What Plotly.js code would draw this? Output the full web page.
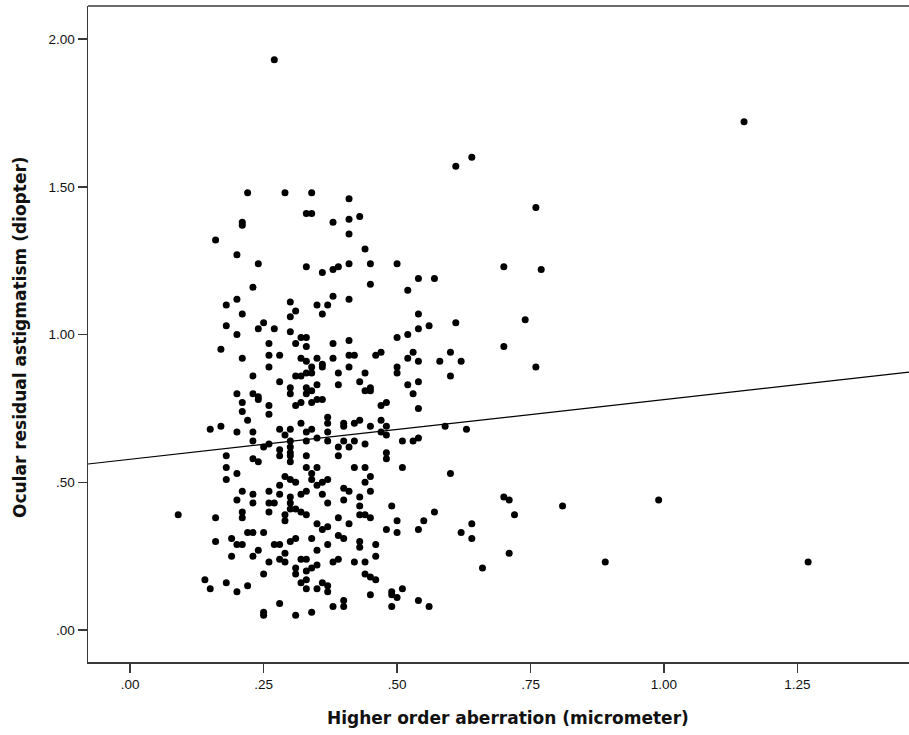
<!DOCTYPE html>
<html>
<head>
<meta charset="utf-8">
<script src="https://cdn.plot.ly/plotly-3.0.1.min.js"></script>
<style>html,body{margin:0;padding:0;background:#fff;}#chart{width:909px;height:735px;}</style>
</head>
<body>
<div id="chart"></div>
<script>
// Higher order aberration (micrometer)
const hoa = [
0.22,0.21,0.21,0.16,0.20,0.24,0.23,0.20,0.18,0.21,0.18,0.25,0.24,
0.29,0.34,0.41,0.33,0.34,0.38,0.41,0.43,0.41,0.44,0.33,0.36,0.38,0.39,0.41,0.30,0.31,0.30,0.35,0.37,0.38,0.36,0.41,0.27,0.30,
0.45,0.50,0.45,0.54,0.57,0.52,0.54,0.54,0.56,0.61,
0.20,0.17,0.21,0.23,0.20,0.23,0.24,0.24,0.21,0.21,0.22,0.15,0.17,0.20,0.23,0.23,0.25,0.18,0.23,0.24,0.18,0.20,0.18,
0.32,0.33,0.38,0.41,0.26,0.31,0.33,
0.26,0.28,0.32,0.35,0.38,0.41,0.42,
0.33,0.36,0.36,0.26,0.41,0.34,
0.31,0.32,0.33,0.34,0.39,
0.28,0.39,0.35,0.43,
0.30,0.30,0.33,0.34,0.33,0.44,
0.31,0.32,0.34,0.35,0.36,0.26,0.26,
0.37,0.37,0.37,0.37,0.32,0.40,0.40,0.42,0.43,
0.28,0.30,0.29,0.34,0.33,0.35,
0.26,0.30,0.30,0.33,0.40,0.42,0.39,0.41,
0.28,0.28,0.30,0.30,0.30,0.33,0.39,
0.33,0.35,0.34,0.42,
0.29,0.30,0.37,0.36,0.34,0.31,
0.50,0.52,0.46,0.47,0.53,0.52,0.54,0.58,0.60,0.62,
0.50,0.50,0.44,0.60,0.52,0.54,
0.45,0.45,0.53,0.47,0.48,0.54,
0.47,0.45,0.48,0.47,0.48,0.59,0.63,
0.44,0.51,0.53,0.54,0.48,0.48,0.51,0.44,0.60,0.45,0.44,
0.21,0.23,0.23,0.20,0.09,0.16,0.21,0.21,0.22,0.23,0.25,0.16,0.19,0.20,0.21,0.24,0.19,0.23,0.25,0.14,0.15,0.18,0.20,0.22,0.25,0.25,
0.28,0.35,0.40,0.41,0.43,
0.26,0.28,0.32,0.33,0.36,
0.26,0.27,0.26,0.30,0.30,0.37,0.40,0.43,
0.29,0.30,0.31,0.32,0.29,0.33,0.39,0.43,0.44,
0.35,0.36,0.37,0.41,
0.39,0.40,0.34,0.43,0.43,
0.27,0.28,0.30,0.31,0.37,
0.29,0.35,
0.26,0.28,0.29,0.32,0.33,0.38,0.39,0.42,0.44,
0.31,0.31,0.33,0.34,0.35,
0.32,0.33,0.33,0.35,0.36,0.37,0.37,
0.28,0.31,0.34,0.38,0.40,0.40,
0.45,0.49,0.45,0.50,0.48,0.50,0.57,0.55,0.54,0.62,0.46,0.46,0.44,0.45,0.46,0.51,0.49,0.49,0.50,0.45,0.54,0.56,0.49,
0.64,0.76,0.70,0.77,0.74,0.70,0.76,0.70,0.71,0.72,0.81,0.64,0.64,0.71,0.66,
0.27,1.15,0.61,0.89,0.99,1.27
];
// Ocular residual astigmatism (diopter)
const ora = [
1.48,1.38,1.37,1.32,1.27,1.24,1.16,1.12,1.10,1.07,1.03,1.04,1.02,
1.48,1.48,1.46,1.41,1.41,1.38,1.39,1.40,1.34,1.29,1.23,1.21,1.22,1.23,1.24,1.11,1.08,1.06,1.10,1.10,1.13,1.07,1.12,1.02,1.01,
1.24,1.24,1.17,1.19,1.19,1.15,1.07,1.02,1.03,1.04,
1.00,0.95,0.92,0.86,0.80,0.80,0.79,0.78,0.77,0.74,0.71,0.68,0.69,0.67,0.67,0.64,0.62,0.59,0.58,0.57,0.55,0.53,0.51,
0.99,0.99,0.97,0.98,0.97,0.97,0.96,
0.93,0.93,0.92,0.92,0.92,0.93,0.93,
0.91,0.90,0.89,0.89,0.89,0.89,
0.86,0.86,0.87,0.87,0.87,
0.84,0.83,0.83,0.84,
0.82,0.80,0.82,0.81,0.80,0.81,
0.76,0.77,0.77,0.78,0.78,0.76,0.73,
0.72,0.70,0.67,0.64,0.70,0.70,0.69,0.70,0.71,
0.68,0.68,0.66,0.68,0.67,0.65,
0.63,0.64,0.62,0.64,0.64,0.64,0.62,0.62,
0.61,0.59,0.60,0.59,0.57,0.59,0.59,
0.55,0.55,0.53,0.55,
0.52,0.51,0.51,0.50,0.51,0.50,
0.99,1.00,0.93,0.94,0.94,0.92,0.91,0.91,0.94,0.91,
0.89,0.87,0.87,0.86,0.83,0.84,
0.82,0.81,0.80,0.76,0.77,0.75,
0.71,0.69,0.69,0.67,0.66,0.69,0.68,
0.63,0.64,0.64,0.65,0.60,0.58,0.55,0.55,0.53,0.52,0.50,
0.47,0.46,0.43,0.44,0.39,0.38,0.40,0.38,0.33,0.33,0.33,0.30,0.31,0.29,0.29,0.27,0.25,0.25,0.19,0.17,0.14,0.16,0.13,0.15,0.06,0.05,
0.49,0.49,0.48,0.47,0.45,
0.47,0.46,0.46,0.47,0.46,
0.43,0.43,0.40,0.45,0.43,0.43,0.44,0.42,
0.39,0.41,0.41,0.40,0.37,0.39,0.38,0.39,0.39,
0.36,0.34,0.35,0.36,
0.32,0.31,0.31,0.30,0.28,
0.29,0.29,0.30,0.31,0.29,
0.26,0.27,
0.23,0.24,0.23,0.24,0.24,0.23,0.24,0.23,0.23,
0.21,0.19,0.20,0.21,0.22,
0.16,0.17,0.14,0.14,0.16,0.15,0.13,
0.09,0.05,0.06,0.08,0.10,0.08,
0.47,0.42,0.38,0.37,0.34,0.33,0.40,0.37,0.34,0.33,0.29,0.25,0.19,0.18,0.17,0.14,0.13,0.12,0.11,0.12,0.10,0.08,0.08,
1.60,1.43,1.23,1.22,1.05,0.96,0.89,0.45,0.44,0.39,0.42,0.36,0.31,0.26,0.21,
1.93,1.72,1.57,0.23,0.44,0.23
];
// Fit line
const fitIntercept = 0.578;
const fitSlope = 0.202;
const xRange = [-0.079, 1.459];
const yRange = [-0.108, 2.112];
const xTickVals = [0, 0.25, 0.5, 0.75, 1.0, 1.25];
const xTickText = ['.00', '.25', '.50', '.75', '1.00', '1.25'];
const yTickVals = [0, 0.5, 1.0, 1.5, 2.0];
const yTickText = ['.00', '.50', '1.00', '1.50', '2.00'];

const axisColor = '#3a3a3a';
const fitX = xRange.slice();
const fitY = fitX.map(v => fitIntercept + fitSlope * v);

const traces = [
  {x: fitX, y: fitY, type: 'scatter', mode: 'lines', line: {color: '#000', width: 1.2}, hoverinfo: 'skip'},
  {x: hoa, y: ora, type: 'scatter', mode: 'markers', marker: {color: '#000', size: 7, line: {width: 0}}}
];
const tickFont = {family: 'Liberation Sans, Arial, sans-serif', size: 13.5, color: '#111'};
const layout = {
  width: 909, height: 735,
  margin: {l: 88, r: 0, t: 6, b: 73, pad: 0},
  paper_bgcolor: '#fff', plot_bgcolor: '#fff',
  showlegend: false,
  xaxis: {range: xRange, tickvals: xTickVals, ticktext: xTickText, ticks: 'outside', ticklen: 9, tickwidth: 1.5,
          tickcolor: axisColor, showline: true, linecolor: axisColor, linewidth: 1.5, showgrid: false, zeroline: false,
          tickfont: tickFont, fixedrange: true},
  yaxis: {range: yRange, tickvals: yTickVals, ticktext: yTickText, ticks: 'outside', ticklen: 9, tickwidth: 1.5,
          tickcolor: axisColor, showline: true, linecolor: axisColor, linewidth: 1.5, showgrid: false, zeroline: false,
          tickfont: tickFont, fixedrange: true},
  shapes: [{type: 'line', xref: 'paper', yref: 'paper', x0: 0, x1: 1, y0: 1, y1: 1, line: {color: axisColor, width: 1.5}}],
  annotations: [
    {text: 'Higher order aberration (micrometer)', xref: 'paper', yref: 'paper', x: 0.5116, y: -0.0854,
     xanchor: 'center', yanchor: 'middle', showarrow: false,
     font: {family: 'DejaVu Sans, Verdana, sans-serif', size: 17, color: '#111', weight: 'bold'}},
    {text: 'Ocular residual astigmatism (diopter)', xref: 'paper', yref: 'paper', x: -0.0828, y: 0.4954,
     xanchor: 'center', yanchor: 'middle', showarrow: false, textangle: -90,
     font: {family: 'DejaVu Sans, Verdana, sans-serif', size: 17, color: '#111', weight: 'bold'}}
  ]
};
Plotly.newPlot('chart', traces, layout, {displayModeBar: false, staticPlot: true});
</script>
</body>
</html>
